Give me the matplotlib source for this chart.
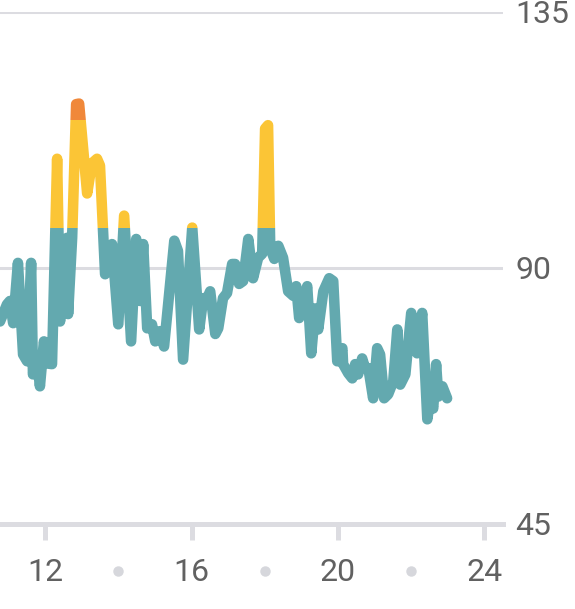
import matplotlib
matplotlib.use('Agg')
import matplotlib.pyplot as plt
from matplotlib.patches import Rectangle
from matplotlib.transforms import blended_transform_factory

# データ (時刻, 心拍数)
hours = [10.77, 10.96, 11.04, 11.13, 11.26, 11.40, 11.51, 11.62, 11.67, 11.78,
         11.86, 11.97, 12.08, 12.19, 12.33, 12.41, 12.49, 12.60, 12.63, 12.74,
         12.85, 12.93, 13.15, 13.28, 13.42, 13.50, 13.64, 13.83, 14.00, 14.16,
         14.35, 14.49, 14.60, 14.68, 14.79, 14.92, 15.01, 15.14, 15.25, 15.53,
         15.63, 15.77, 16.02, 16.21, 16.32, 16.43, 16.51, 16.65, 16.73, 16.86,
         16.97, 17.11, 17.19, 17.30, 17.41, 17.55, 17.68, 17.82, 17.93, 18.01,
         18.09, 18.15, 18.26, 18.37, 18.50, 18.64, 18.78, 18.86, 18.94, 19.05,
         19.16, 19.27, 19.38, 19.46, 19.60, 19.76, 19.87, 19.98, 20.12, 20.14,
         20.28, 20.39, 20.47, 20.55, 20.66, 20.74, 20.83, 20.96, 21.07, 21.15,
         21.26, 21.37, 21.51, 21.62, 21.70, 21.84, 22.00, 22.11, 22.16, 22.30,
         22.44, 22.52, 22.60, 22.68, 22.74, 22.85, 22.98]
bpm = [80.6, 83.6, 84.2, 80.3, 90.9, 74.8, 73.6, 90.9, 71.3, 74.1,
       69.2, 77.1, 73.2, 73.1, 109.2, 80.6, 94.2, 95.3, 81.9, 95.3,
       118.8, 118.9, 103.1, 108.4, 109.2, 108.0, 88.9, 94.2, 80.1, 99.2,
       77.1, 95.1, 84.2, 94.2, 79.4, 80.1, 77.1, 78.9, 76.2, 94.8,
       93.0, 73.9, 97.1, 79.2, 84.7, 84.7, 85.9, 78.4, 79.4, 84.7,
       85.6, 90.7, 90.7, 87.2, 87.7, 95.1, 88.2, 91.8, 92.5, 114.5,
       115.1, 93.5, 91.6, 93.9, 91.8, 85.9, 85.1, 86.8, 81.2, 84.2,
       86.8, 75.0, 82.9, 79.2, 85.9, 88.2, 87.7, 73.6, 75.9, 73.1,
       71.5, 70.6, 73.1, 71.3, 74.1, 72.4, 72.4, 67.1, 75.9, 74.8,
       67.1, 67.8, 70.1, 79.2, 69.5, 71.3, 82.1, 78.5, 75.0, 82.1,
       63.4, 67.1, 65.3, 73.1, 67.4, 69.2, 67.1]

x_ticks = [12, 16, 20, 24]
x_dots = [14, 18, 22]
y_ticks = [45, 90, 135]

# ゾーン (下限, 上限, 色)
zones = [(0, 97, '#63a9af'), (97, 116, '#fbc536'), (116, 200, '#f0883a')]

plt.rcParams['font.family'] = ['Roboto', 'DejaVu Sans']

fig = plt.figure(figsize=(5.75, 6.09), dpi=100)
ax = fig.add_axes([0, 0.1396, 0.875, 0.8407])

# グリッド線
for y in y_ticks[1:]:
    ax.axhline(y, color='#dcdce1', linewidth=2.2, zorder=1)

# ゾーンごとに色を変えて線を描く
trans = blended_transform_factory(ax.transAxes, ax.transData)
for lo, hi, color in zones:
    line, = ax.plot(hours, bpm, color=color, linewidth=7.6,
                    solid_capstyle='round', solid_joinstyle='round', zorder=3)
    line.set_clip_path(Rectangle((0, lo), 1, hi - lo, transform=trans))

ax.set_xlim(10.77, 24.51)
ax.set_ylim(45, 135)

for s in ['top', 'left', 'right']:
    ax.spines[s].set_visible(False)
ax.spines['bottom'].set_color('#dcdce1')
ax.spines['bottom'].set_linewidth(3.6)

ax.set_xticks(x_ticks)
ax.set_xticklabels([str(t) for t in x_ticks])
ax.tick_params(axis='x', length=11.5, width=3.6, color='#dcdce1',
               labelsize=23, labelcolor='#616161', pad=13)

ax.yaxis.tick_right()
ax.set_yticks(y_ticks)
ax.set_yticklabels([str(t) for t in y_ticks])
ax.tick_params(axis='y', length=0, labelsize=23, labelcolor='#616161', pad=9)

# 目盛りラベルの間の点
dot_trans = blended_transform_factory(ax.transData, ax.transAxes)
ax.plot(x_dots, [-0.092] * len(x_dots), 'o', color='#d6d7dc', markersize=6.5,
        transform=dot_trans, clip_on=False)

fig.savefig('out.png', dpi=100)
